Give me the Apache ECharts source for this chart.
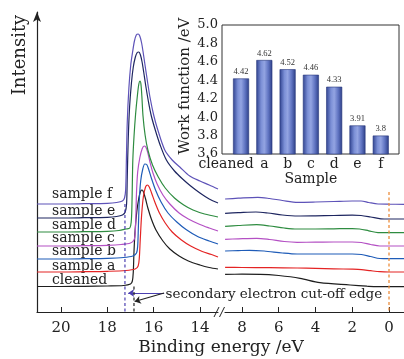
<!DOCTYPE html>
<html><head><meta charset="utf-8">
<script src="https://cdn.jsdelivr.net/npm/echarts/dist/echarts.min.js"></script>
<style>html,body{margin:0;padding:0;background:#fff}#c{width:404px;height:359px}</style>
</head><body><div id="c"></div>
<script>
// ---- data ----
const categories = ['cleaned', 'a', 'b', 'c', 'd', 'e', 'f'];
const workFunction = [4.42, 4.62, 4.52, 4.46, 4.33, 3.91, 3.8];
const leftTicks = [14, 16, 18, 20];
const rightTicks = [0, 2, 4, 6, 8];
const sampleNames = ['cleaned', 'sample a', 'sample b', 'sample c', 'sample d', 'sample e', 'sample f'];
const cutoffF = 17.24, cutoffCleaned = 16.85, fermiLevel = 0;

const cleanedLeft = [[21.04,25.5],[20,25.5],[19,25.7],[18,26],[17.3,26.5],[17.0,28],[16.92,31],[16.88,40],[16.85,60],[16.8,82],[16.73,100],[16.64,114],[16.56,121],[16.5,122],[16.44,120],[16.36,114],[16.25,104],[16.1,93],[15.9,82],[15.6,71],[15.3,63],[14.9,56],[14.5,51],[14.0,47],[13.6,44.5],[13.22,43]];
const cleanedRight = [[8.92,37.7],[8,37.8],[7.0,37.7],[6.0,36.5],[4.84,33.7],[3.76,29.3],[2.12,27],[1.2,25.8],[0.65,25.3],[0,25.3],[-0.82,25.3]];
const aLeft = [[21.04,40],[20,40],[19,40.3],[18,40.7],[17.2,41.5],[16.8,43],[16.67,46],[16.62,54],[16.58,72],[16.52,97],[16.44,116],[16.35,125],[16.27,127],[16.19,125],[16.09,119],[15.95,110],[15.75,99],[15.5,89],[15.2,80],[14.8,72],[14.4,66],[13.9,60.5],[13.5,57.5],[13.22,55]];
const aRight = [[8.92,44.7],[8,44.5],[6.5,44.3],[5.0,44],[4,43.6],[3,43.2],[2,42.8],[1.5,42.4],[1.0,41.3],[0.5,40.3],[0,40],[-0.82,40]];
const bLeft = [[21.04,53],[20,53],[19,53.3],[18,53.7],[17.3,54.5],[16.9,56],[16.74,59],[16.69,66],[16.66,85],[16.62,112],[16.56,131],[16.47,143],[16.38,148],[16.3,147.5],[16.22,143],[16.1,134],[15.92,122],[15.68,110],[15.38,99],[15.0,90],[14.6,82.5],[14.1,75.5],[13.6,71],[13.22,68]];
const bRight = [[8.92,61],[8.2,61.4],[7.6,61.7],[6.8,61],[5.8,59],[5.0,58],[4.0,58],[3.0,58],[2.0,58],[1.5,57.5],[1.0,55.5],[0.5,53.5],[0,53.3],[-0.82,53.3]];
const cLeft = [[21.04,66],[20,66],[19,66.3],[18,66.7],[17.4,67.5],[17.0,69],[16.85,72],[16.8,78],[16.77,95],[16.74,120],[16.69,140],[16.6,154],[16.5,163],[16.41,166],[16.34,165],[16.26,160],[16.16,150],[16.03,139],[15.85,128],[15.6,117],[15.3,108],[14.9,99],[14.5,93],[14.0,87.5],[13.6,84],[13.22,81]];
const cRight = [[8.92,72.7],[8.2,73.2],[7.2,73.7],[6.5,72.5],[5.7,70.5],[5.0,69.7],[4.0,69.8],[3.0,70],[2.0,70],[1.5,69.5],[1.0,67.5],[0.5,66],[0,66],[-0.82,66]];
const dLeft = [[21.04,80],[20,80],[19,80.3],[18,80.7],[17.5,81.5],[17.2,83],[17.03,84],[16.97,90],[16.94,105],[16.92,130],[16.9,152],[16.85,175],[16.78,198],[16.7,217],[16.64,228],[16.59,231],[16.55,228],[16.51,216],[16.46,196],[16.37,177],[16.25,162],[16.05,147],[15.8,135],[15.5,124],[15.1,114],[14.7,107],[14.3,102],[13.8,98],[13.22,95]];
const dRight = [[8.92,85.7],[8.2,86.5],[7.2,87.3],[6.5,86],[5.7,84],[5.0,83],[4.0,83],[3.0,83.2],[2.0,83.4],[1.6,83],[1.1,81.2],[0.6,79.4],[0,79.3],[-0.82,79.3]];
const eLeft = [[21.04,94],[20,94],[19,94.3],[18,94.7],[17.6,95.5],[17.35,97],[17.23,100],[17.17,108],[17.14,135],[17.1,172],[17.04,205],[16.96,229],[16.88,245],[16.79,255],[16.71,259.5],[16.64,260],[16.57,257],[16.5,250],[16.43,240],[16.34,226],[16.23,211],[16.1,196],[15.93,182],[15.72,167],[15.45,152],[15.1,141],[14.75,133],[14.4,126],[14.0,119],[13.6,113],[13.22,109]];
const eRight = [[8.92,98.7],[8.2,99.3],[7.24,100],[6.6,99],[5.8,97],[4.95,96],[4.0,96.2],[3.0,96.5],[2.0,96.8],[1.52,96.5],[1.0,95],[0.44,93.2],[0,93],[-0.82,93]];
const fLeft = [[21.04,108],[20,108],[19,108.3],[18,108.7],[17.6,109.5],[17.35,111],[17.26,114],[17.21,122],[17.18,150],[17.14,190],[17.07,224],[16.99,247],[16.91,260],[16.83,271],[16.75,277],[16.67,278],[16.6,276],[16.52,269],[16.45,259],[16.38,248],[16.27,231],[16.16,215],[16.0,197],[15.82,182],[15.52,162],[15.2,152],[14.87,145],[14.44,136],[14.0,131],[13.6,127],[13.22,123]];
const fRight = [[8.92,113],[8.2,113.8],[7.14,114.7],[6.5,113.5],[5.8,111.5],[4.96,109.7],[4.0,110],[3.0,110.5],[2.0,111],[1.52,111],[1.1,109.5],[0.6,108],[0,107.8],[-0.82,107.7]];

const leftCurves = [cleanedLeft, aLeft, bLeft, cLeft, dLeft, eLeft, fLeft];
const rightCurves = [cleanedRight, aRight, bRight, cRight, dRight, eRight, fRight];

// ---- styles ----
const lineColors = ['#1e1e1e', '#e42424', '#1f5cb8', '#b450c4', '#2e8c40', '#1e2660', '#5d52b8'];
const labelY = [280, 266.3, 251.7, 238.3, 225.3, 211.7, 194];
const FONT = 'DejaVu Serif';
const TXT = '#222';

const series = [];
leftCurves.forEach((d, i) => {
  series.push({type:'line', xAxisIndex:0, yAxisIndex:0, data:d, showSymbol:false, smooth:0.3,
    lineStyle:{color:lineColors[i], width:1.2}, z:3});
  series.push({type:'line', xAxisIndex:1, yAxisIndex:1, data:rightCurves[i], showSymbol:false, smooth:0.3,
    lineStyle:{color:lineColors[i], width:1.2}, z:3});
});
// dashed guide lines
series.push({type:'line', xAxisIndex:0, yAxisIndex:0, data:[[cutoffF,fLeft[0][1]],[cutoffF,0]], showSymbol:false,
  lineStyle:{color:'#4b3fb0', width:1.2, type:[3,2.5]}});
series.push({type:'line', xAxisIndex:0, yAxisIndex:0, data:[[cutoffCleaned,cleanedLeft[0][1]],[cutoffCleaned,0]], showSymbol:false,
  lineStyle:{color:'#222', width:1.2, type:[3,2.5]}});
series.push({type:'line', xAxisIndex:1, yAxisIndex:1, data:[[fermiLevel,120],[fermiLevel,0]], showSymbol:false,
  lineStyle:{color:'#ec8d3c', width:1.3, type:[3,2.5]}});
// arrows
series.push({type:'lines', coordinateSystem:'cartesian2d', xAxisIndex:0, yAxisIndex:0,
  symbol:['none','arrow'], symbolSize:6,
  data:[{coords:[[15.55,19],[17.1,19]], lineStyle:{color:'#4b3fb0'}},
        {coords:[[15.55,19],[16.82,10.5]], lineStyle:{color:'#222'}}],
  lineStyle:{width:1.2, opacity:1}});
// bars
series.push({type:'bar', xAxisIndex:3, yAxisIndex:3, data:workFunction, barWidth:16,
  itemStyle:{borderColor:'#27357a', borderWidth:0.6,
    color:new echarts.graphic.LinearGradient(0,0,1,0,[
      {offset:0,color:'#2f4290'},{offset:0.3,color:'#7b8fd6'},{offset:0.5,color:'#93a4e2'},
      {offset:0.75,color:'#6074c2'},{offset:1,color:'#2c3e86'}])},
  label:{show:true, position:'top', distance:2, fontSize:8.5, fontFamily:'Liberation Serif', color:'#333'}});

const graphic = [
  {type:'text', x:20, y:55, rotation:Math.PI/2, style:{text:'Intensity', fontSize:18, fontFamily:FONT, fill:TXT, align:'center', verticalAlign:'middle'}},
  {type:'text', x:185, y:86, rotation:Math.PI/2, style:{text:'Work function /eV', fontSize:15, fontFamily:FONT, fill:TXT, align:'center', verticalAlign:'middle'}},
  {type:'text', x:221, y:348, style:{text:'Binding energy /eV', fontSize:17, fontFamily:FONT, fill:TXT, align:'center', verticalAlign:'middle'}},
  {type:'text', x:165.5, y:294, style:{text:'secondary electron cut-off edge', fontSize:13.5, fontFamily:FONT, fill:TXT, align:'left', verticalAlign:'middle'}},
  {type:'line', shape:{x1:214, y1:317, x2:219, y2:307}, style:{stroke:'#222', lineWidth:1}},
  {type:'line', shape:{x1:219.5, y1:317, x2:224.5, y2:307}, style:{stroke:'#222', lineWidth:1}}
];
sampleNames.forEach((n, i) => graphic.push({type:'text', x:52, y:labelY[i],
  style:{text:n, fontSize:14, fontFamily:FONT, fill:TXT, align:'left', verticalAlign:'middle'}}));

const axisTxt = {fontFamily:FONT, color:TXT};
const option = {
  animation:false,
  grid:[
    {left:37, top:12, width:181, height:300},
    {left:225, top:12, width:179, height:300},
    {left:222, top:25, width:177, height:129, show:true, borderColor:'#333', borderWidth:1, backgroundColor:'#fff'},
    {left:229.4, top:25, width:163, height:129}
  ],
  xAxis:[
    {gridIndex:0, type:'value', min:13.22, max:21.04, inverse:true,
      axisLine:{lineStyle:{color:'#222', width:1.2}},
      axisTick:{inside:true, length:5, customValues:leftTicks, lineStyle:{color:'#222'}},
      axisLabel:Object.assign({customValues:leftTicks, fontSize:15, margin:9}, axisTxt), splitLine:{show:false}},
    {gridIndex:1, type:'value', min:-0.816, max:8.925, inverse:true,
      axisLine:{lineStyle:{color:'#222', width:1.2}},
      axisTick:{inside:true, length:5, customValues:rightTicks, lineStyle:{color:'#222'}},
      axisLabel:Object.assign({customValues:rightTicks, fontSize:15, margin:9}, axisTxt), splitLine:{show:false}},
    {gridIndex:2, type:'value', min:0, max:1, show:false},
    {gridIndex:3, type:'category', data:categories.map((c,i)=> i===0 ? {value:c, textStyle:{padding:[0,30,0,0]}} : c),
      axisLine:{show:false}, axisTick:{show:false},
      axisLabel:Object.assign({fontSize:14, margin:3, interval:0, hideOverlap:false}, axisTxt),
      name:'Sample', nameLocation:'middle', nameGap:18, nameTextStyle:Object.assign({fontSize:14}, axisTxt)}
  ],
  yAxis:[
    {gridIndex:0, type:'value', min:0, max:300,
      axisLine:{show:true, symbol:['none','arrow'], symbolSize:[6,10], lineStyle:{color:'#222', width:1.2}},
      axisTick:{show:false}, axisLabel:{show:false}, splitLine:{show:false}},
    {gridIndex:1, type:'value', min:0, max:300, show:false},
    {gridIndex:2, type:'value', min:3.6, max:5.0, interval:0.2,
      axisLine:{show:false}, axisTick:{show:false}, splitLine:{show:false},
      axisLabel:Object.assign({fontSize:13, margin:4, formatter:v=>v.toFixed(1)}, axisTxt)},
    {gridIndex:3, type:'value', min:3.6, max:5.0, show:false}
  ],
  graphic:graphic,
  series:series
};
const chart = echarts.init(document.getElementById('c'), null, {renderer:'canvas'});
chart.setOption(option);
</script></body></html>
